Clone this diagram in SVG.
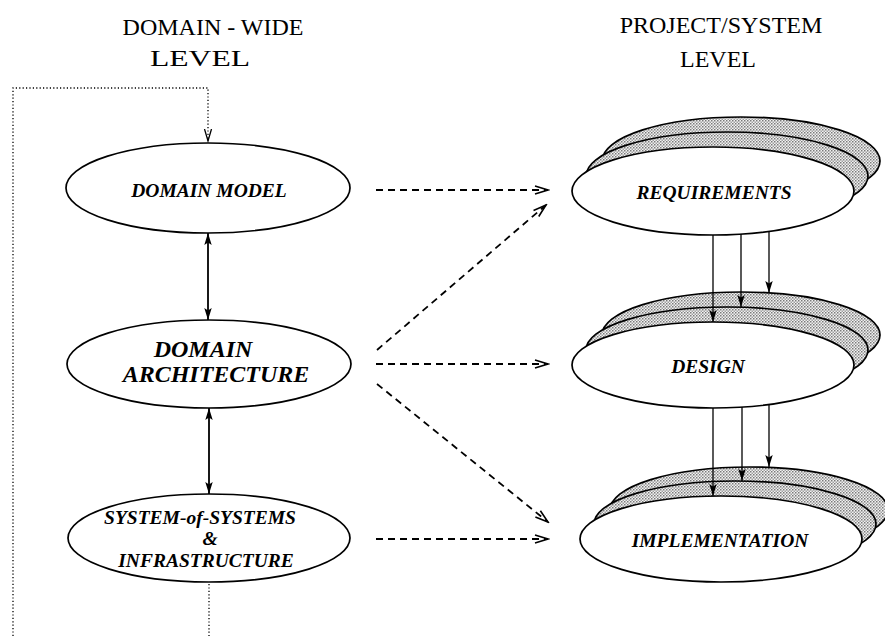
<svg xmlns="http://www.w3.org/2000/svg" width="885" height="636" viewBox="0 0 885 636">
  <defs>
    <pattern id="stip" width="3" height="3" patternUnits="userSpaceOnUse">
      <rect width="3" height="3" fill="#f2f2f2"/>
      <rect x="0" y="0" width="1.5" height="1.5" fill="#7a7a7a"/>
      <rect x="1.5" y="1.5" width="1.5" height="1.5" fill="#a0a0a0"/>
    </pattern>
    <marker id="solid" markerUnits="userSpaceOnUse" markerWidth="13" markerHeight="9" refX="12" refY="4.5" orient="auto-start-reverse" viewBox="0 0 13 9">
      <path d="M0,0.8 L12,4.5 L0,8.2 L2.5,4.5 z" fill="#000"/>
    </marker>
    <marker id="open" markerUnits="userSpaceOnUse" markerWidth="16" markerHeight="12" refX="14" refY="5.5" orient="auto" viewBox="0 0 16 12">
      <path d="M1,1.5 L14,5.5 L1,9.5" fill="none" stroke="#000" stroke-width="1.6"/>
    </marker>
    <marker id="dotopen" markerUnits="userSpaceOnUse" markerWidth="14" markerHeight="10" refX="12" refY="5" orient="auto" viewBox="0 0 14 10">
      <path d="M0,1.5 L12,5 L0,8.5" fill="none" stroke="#000" stroke-width="1.3"/>
    </marker>
  </defs>
  <style>
    .node ellipse { fill: #fff; stroke: #000; stroke-width: 1.7; }
    .node ellipse.layer { fill: url(#stip); }
    .lbl { font-family: "Liberation Serif", "Times New Roman", serif; font-weight: bold; font-style: italic; font-size: 19.5px; fill: #000; text-anchor: middle; }
    .big { font-size: 24px; }
    .title { font-family: "Liberation Serif", "Times New Roman", serif; font-size: 24px; fill: #000; text-anchor: middle; }
    .solid { stroke: #000; stroke-width: 1.8; fill: none; }
    .thin { stroke: #000; stroke-width: 1.3; fill: none; marker-end: url(#solid); }
    .dash { stroke: #000; stroke-width: 1.8; fill: none; stroke-dasharray: 7 5; marker-end: url(#open); }
    .dot { stroke: #000; stroke-width: 1.3; fill: none; stroke-dasharray: 1.2 2.2; }
  </style>

  <rect width="885" height="636" fill="#fff"/>

  <g id="titles">
    <text class="title" x="213" y="35">DOMAIN - WIDE</text>
    <text class="title" x="200" y="66" textLength="100" lengthAdjust="spacingAndGlyphs">LEVEL</text>
    <text class="title" x="721" y="33" font-size="25">PROJECT/SYSTEM</text>
    <text class="title" x="718" y="67" font-size="25">LEVEL</text>
  </g>

  <g id="domain-model" class="node">
    <ellipse cx="208" cy="188" rx="142" ry="45"/>
    <text class="lbl" x="209" y="197">DOMAIN MODEL</text>
  </g>

  <g id="domain-architecture" class="node">
    <ellipse cx="209" cy="364" rx="142" ry="44"/>
    <text class="lbl big" x="203" y="357">DOMAIN</text>
    <text class="lbl big" x="216" y="382">ARCHITECTURE</text>
  </g>

  <g id="system-of-systems" class="node">
    <ellipse cx="209" cy="538" rx="141" ry="44"/>
    <text class="lbl" x="200" y="524">SYSTEM-of-SYSTEMS</text>
    <text class="lbl" x="210" y="545">&amp;</text>
    <text class="lbl" x="206" y="567">INFRASTRUCTURE</text>
  </g>

  <g id="requirements" class="node">
    <ellipse class="layer" cx="741" cy="161" rx="139" ry="44"/>
    <ellipse class="layer" cx="727" cy="176" rx="141" ry="44"/>
    <ellipse cx="713" cy="191" rx="141" ry="44"/>
    <text class="lbl" x="714" y="199">REQUIREMENTS</text>
  </g>

  <g id="design" class="node">
    <ellipse class="layer" cx="741" cy="335" rx="139" ry="43"/>
    <ellipse class="layer" cx="727" cy="350" rx="141" ry="43"/>
    <ellipse cx="713" cy="365" rx="141" ry="43"/>
    <text class="lbl" x="708" y="373">DESIGN</text>
  </g>

  <g id="implementation" class="node">
    <ellipse class="layer" cx="749" cy="510" rx="139" ry="43"/>
    <ellipse class="layer" cx="735" cy="524" rx="141" ry="43"/>
    <ellipse cx="721" cy="539" rx="141" ry="43"/>
    <text class="lbl" x="720" y="547">IMPLEMENTATION</text>
  </g>

  <g id="connectors">
    <path class="dot" d="M13,636 L13,88 L208,88 L208,141" marker-end="url(#dotopen)"/>
    <path class="dot" d="M209,584 L209,636"/>

    <line class="solid" x1="208" y1="233" x2="208" y2="320" marker-start="url(#solid)" marker-end="url(#solid)"/>
    <line class="solid" x1="209" y1="408" x2="209" y2="494" marker-start="url(#solid)" marker-end="url(#solid)"/>

    <line class="dash" x1="376" y1="190" x2="548" y2="190"/>
    <line class="dash" x1="377" y1="350" x2="546" y2="205"/>
    <line class="dash" x1="376" y1="364" x2="548" y2="364"/>
    <line class="dash" x1="377" y1="384" x2="548" y2="522"/>
    <line class="dash" x1="376" y1="539" x2="548" y2="539"/>

    <line class="thin" x1="713" y1="235" x2="713" y2="322"/>
    <line class="thin" x1="741" y1="234" x2="741" y2="307"/>
    <line class="thin" x1="769" y1="231" x2="769" y2="293"/>

    <line class="thin" x1="713" y1="408" x2="713" y2="496"/>
    <line class="thin" x1="742" y1="407" x2="742" y2="481"/>
    <line class="thin" x1="769" y1="404" x2="769" y2="467"/>
  </g>
</svg>
